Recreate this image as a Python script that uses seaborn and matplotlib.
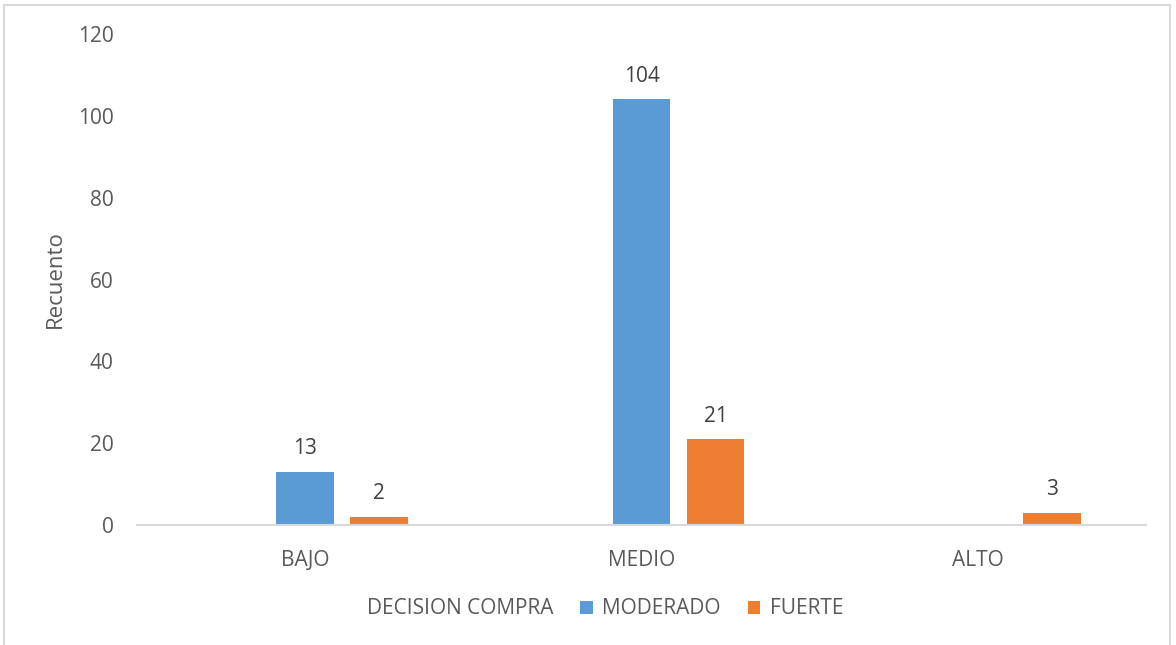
import numpy as np
import pandas as pd
import matplotlib
matplotlib.use("Agg")
import matplotlib.pyplot as plt
from matplotlib.patches import Patch, Rectangle
import seaborn as sns

# Data
categories = ["BAJO", "MEDIO", "ALTO"]
series_names = ["DECISION COMPRA", "MODERADO", "FUERTE"]
decision_compra = [0, 0, 0]          # header series, no visible bars
moderado = [13, 104, np.nan]
fuerte = [2, 21, 3]
y_ticks = [0, 20, 40, 60, 80, 100, 120]

colors = {"DECISION COMPRA": (1, 1, 1, 0), "MODERADO": "#5B9BD5", "FUERTE": "#ED7D31"}
text_color = "#595959"

rows = []
for name, vals in zip(series_names, [decision_compra, moderado, fuerte]):
    for cat, v in zip(categories, vals):
        rows.append({"categoria": cat, "serie": name, "valor": v})
df = pd.DataFrame(rows)

sns.set_theme(style="white")
plt.rcParams["font.family"] = ["Open Sans", "DejaVu Sans"]

fig = plt.figure(figsize=(11.76, 6.45), dpi=100)
ax = fig.add_axes([137 / 1176, 1 - 525 / 645, (1146 - 137) / 1176, (525 - 34) / 645])

sns.barplot(data=df, x="categoria", y="valor", hue="serie",
            order=categories, hue_order=series_names, palette=colors,
            saturation=1, width=0.66, gap=0.22, linewidth=0, errorbar=None,
            legend=False, ax=ax)

# Value labels above the visible bars
for name, cont in zip(series_names, ax.containers):
    if name == "DECISION COMPRA":
        continue
    labels = []
    for bar in cont:
        h = bar.get_height()
        labels.append("" if (np.isnan(h) or h == 0) else f"{h:.0f}")
    ax.bar_label(cont, labels=labels, padding=9, fontsize=15, color="#404040")

ax.set_xlim(-0.5, 2.5)
ax.set_ylim(0, 120)
ax.set_yticks(y_ticks)
ax.set_yticklabels([str(t) for t in y_ticks])
ax.tick_params(axis="y", length=0, pad=17, labelsize=15, labelcolor=text_color)
ax.tick_params(axis="x", length=0, pad=18, labelsize=15, labelcolor=text_color)
ax.set_xlabel("")
ax.set_ylabel("Recuento", fontsize=16, color=text_color)
ax.yaxis.set_label_coords(-0.070, 0.5)

for side in ["left", "right", "top"]:
    ax.spines[side].set_visible(False)
ax.spines["bottom"].set_color("#D9D9D9")
ax.spines["bottom"].set_linewidth(1.5)
ax.grid(False)

# Legend across the bottom
handles = [Patch(facecolor=colors[n], edgecolor="none") for n in series_names]
leg = fig.legend(handles, series_names, loc="center",
                 bbox_to_anchor=(594 / 1176, 1 - 609 / 645), ncol=3, frameon=False,
                 fontsize=15, handlelength=0.6, handleheight=0.6,
                 handletextpad=0.45, columnspacing=1.3)
for t in leg.get_texts():
    t.set_color(text_color)

# Chart frame
fig.patches.append(Rectangle((4 / 1176, -0.01), (1170 - 4) / 1176, 1.01 - 5 / 645,
                             transform=fig.transFigure, fill=False,
                             edgecolor="#D9D9D9", linewidth=1.5))

fig.savefig("out.png", dpi=100, facecolor="white")
